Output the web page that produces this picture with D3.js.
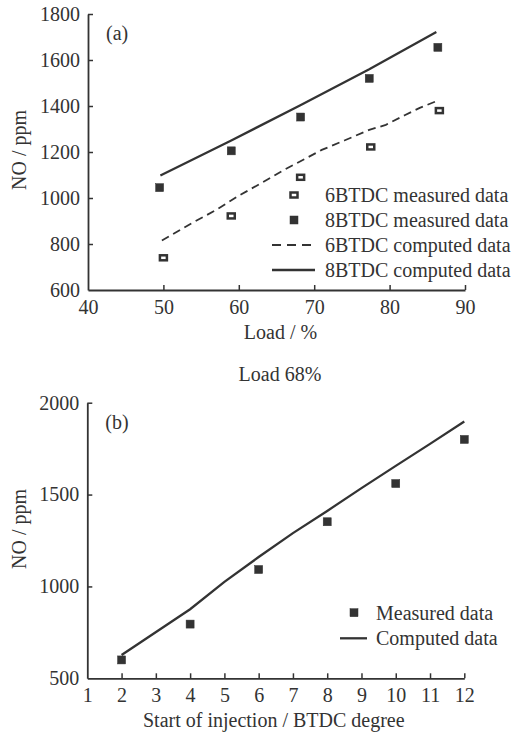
<!DOCTYPE html>
<html>
<head>
<meta charset="utf-8">
<script src="https://cdn.jsdelivr.net/npm/d3@7"></script>
<style>
  body { margin: 0; background: #fff; }
  svg text { font-family: "Liberation Serif", "Times New Roman", serif; fill: #333; }
</style>
</head>
<body>
<svg width="517" height="734"></svg>
<script>
// panel (a): NO vs load
const loadTicks = [40, 50, 60, 70, 80, 90]
const noTicksA = [600, 800, 1000, 1200, 1400, 1600, 1800]
const meas6 = [[50, 740], [59, 922], [68.2, 1090], [77.5, 1222], [86.6, 1380]]
const meas8 = [[49.5, 1045], [59, 1205], [68.2, 1352], [77.3, 1520], [86.4, 1655]]
const comp6 = [[49.8, 815], [54, 895], [57, 948], [60, 1010], [63, 1065], [66, 1122], [71, 1209],
               [74, 1250], [77.3, 1296], [79.5, 1318], [82, 1360], [84, 1392], [86.5, 1425]]
const comp8 = [[49.6, 1098], [59, 1250], [68.1, 1402], [77.3, 1560], [86.2, 1722]]

// panel (b): NO vs start of injection, load 68%
const sojTicks = [1, 2, 3, 4, 5, 6, 7, 8, 9, 10, 11, 12]
const noTicksB = [500, 1000, 1500, 2000]
const measB = [[2, 600], [4, 795], [6, 1092], [8, 1352], [10, 1560], [12, 1800]]
const compB = [[2, 627], [4, 876], [5, 1025], [6, 1160], [7, 1290], [8, 1411], [9, 1535],
               [10, 1656], [11, 1776], [12, 1898]]

const ink = "#333"
const fs = 20
const svg = d3.select("svg")

function panel(opt) {
    const x = d3.scaleLinear().domain(opt.xDomain).range(opt.xRange)
    const y = d3.scaleLinear().domain(opt.yDomain).range(opt.yRange)
    const g = svg.append("g")

    const xAxis = g.append("g")
        .attr("transform", `translate(0,${opt.yRange[0]})`)
        .call(d3.axisBottom(x).tickValues(opt.xTicks).tickFormat(d3.format("d"))
            .tickSizeInner(-5).tickSizeOuter(0).tickPadding(10))
    const yAxis = g.append("g")
        .attr("transform", `translate(${opt.xRange[0]},0)`)
        .call(d3.axisLeft(y).tickValues(opt.yTicks).tickFormat(d3.format("d"))
            .tickSizeInner(-5).tickSizeOuter(0).tickPadding(8))

    for (const ax of [xAxis, yAxis]) {
        ax.attr("font-family", null).attr("font-size", null)
        ax.select(".domain").attr("stroke", ink).attr("stroke-width", 1.8)
        ax.selectAll(".tick line").attr("stroke", ink).attr("stroke-width", 1.5)
        ax.selectAll(".tick text").attr("font-size", fs).attr("fill", ink)
    }
    // first ticks sit on the other axis, drop their inner marks
    yAxis.selectAll(".tick line").filter(d => d === opt.yDomain[0]).remove()
    xAxis.selectAll(".tick line").filter(d => d === opt.xDomain[0]).remove()

    g.append("text")
        .attr("x", (opt.xRange[0] + opt.xRange[1]) / 2 + opt.xTitleShift)
        .attr("y", opt.xTitleY)
        .attr("text-anchor", "middle")
        .attr("font-size", fs)
        .text(opt.xTitle)

    g.append("text")
        .attr("transform", `translate(26,${opt.yTitleY}) rotate(-90)`)
        .attr("text-anchor", "middle")
        .attr("font-size", fs)
        .text("NO / ppm")

    g.append("text")
        .attr("x", opt.xRange[0] + 18)
        .attr("y", opt.yRange[1] + 26)
        .attr("font-size", fs)
        .text(opt.tag)

    return { g, x, y }
}

function drawLine(p, data, dash) {
    p.g.append("path")
        .datum(data)
        .attr("fill", "none")
        .attr("stroke", ink)
        .attr("stroke-width", dash ? 1.8 : 2.3)
        .attr("stroke-dasharray", dash ? "8,5" : null)
        .attr("d", d3.line().x(d => p.x(d[0])).y(d => p.y(d[1])))
}

function drawMarks(p, data, hollow) {
    p.g.append("g").selectAll("rect")
        .data(data)
        .enter().append("rect")
        .attr("x", d => p.x(d[0]) - (hollow ? 3.5 : 4))
        .attr("y", d => p.y(d[1]) - (hollow ? 2.5 : 4))
        .attr("width", hollow ? 7 : 8)
        .attr("height", hollow ? 5 : 8)
        .attr("fill", hollow ? "#fff" : ink)
        .attr("stroke", ink)
        .attr("stroke-width", hollow ? 2.5 : 0.5)
}

function legend(items, x0, y0, step) {
    const lg = svg.append("g")
    items.forEach((it, i) => {
        const yy = y0 + i * step
        if (it.type === "mark") {
            lg.append("rect")
                .attr("x", x0 + it.markDx - (it.hollow ? 3.5 : 4))
                .attr("y", yy - (it.hollow ? 2.5 : 4))
                .attr("width", it.hollow ? 7 : 8)
                .attr("height", it.hollow ? 5 : 8)
                .attr("fill", it.hollow ? "#fff" : ink)
                .attr("stroke", ink)
                .attr("stroke-width", it.hollow ? 2.5 : 0.5)
        } else {
            lg.append("line")
                .attr("x1", x0).attr("x2", x0 + it.len)
                .attr("y1", yy).attr("y2", yy)
                .attr("stroke", ink)
                .attr("stroke-width", it.dash ? 1.8 : 2.3)
                .attr("stroke-dasharray", it.dash ? "9,6" : null)
        }
        lg.append("text")
            .attr("x", x0 + it.textDx)
            .attr("y", yy + 7)
            .attr("font-size", fs)
            .text(it.label)
    })
}

const a = panel({
    xDomain: [40, 90], xRange: [88, 465], xTicks: loadTicks,
    yDomain: [600, 1800], yRange: [290, 14], yTicks: noTicksA,
    xTitle: "Load / %", xTitleY: 339, xTitleShift: 4, yTitleY: 150, tag: "(a)"
})
drawLine(a, comp6, true)
drawLine(a, comp8, false)
drawMarks(a, meas6, true)
drawMarks(a, meas8, false)
legend([
    { type: "mark", hollow: true, markDx: 22, label: "6BTDC measured data", textDx: 53 },
    { type: "mark", hollow: false, markDx: 22, label: "8BTDC measured data", textDx: 53 },
    { type: "line", dash: true, len: 43, label: "6BTDC computed data", textDx: 53 },
    { type: "line", dash: false, len: 43, label: "8BTDC computed data", textDx: 53 }
], 272, 195, 25)

svg.append("text")
    .attr("x", 280).attr("y", 381)
    .attr("text-anchor", "middle")
    .attr("font-size", fs)
    .text("Load 68%")

const b = panel({
    xDomain: [1, 12], xRange: [87.3, 464.3], xTicks: sojTicks,
    yDomain: [500, 2000], yRange: [678.3, 402.7], yTicks: noTicksB,
    xTitle: "Start of injection / BTDC degree", xTitleY: 727, xTitleShift: -2, yTitleY: 529, tag: "(b)"
})
drawLine(b, compB, false)
drawMarks(b, measB, false)
legend([
    { type: "mark", hollow: false, markDx: 14, label: "Measured data", textDx: 36 },
    { type: "line", dash: false, len: 27, label: "Computed data", textDx: 36 }
], 340, 612.7, 25.6)
</script>
</body>
</html>
